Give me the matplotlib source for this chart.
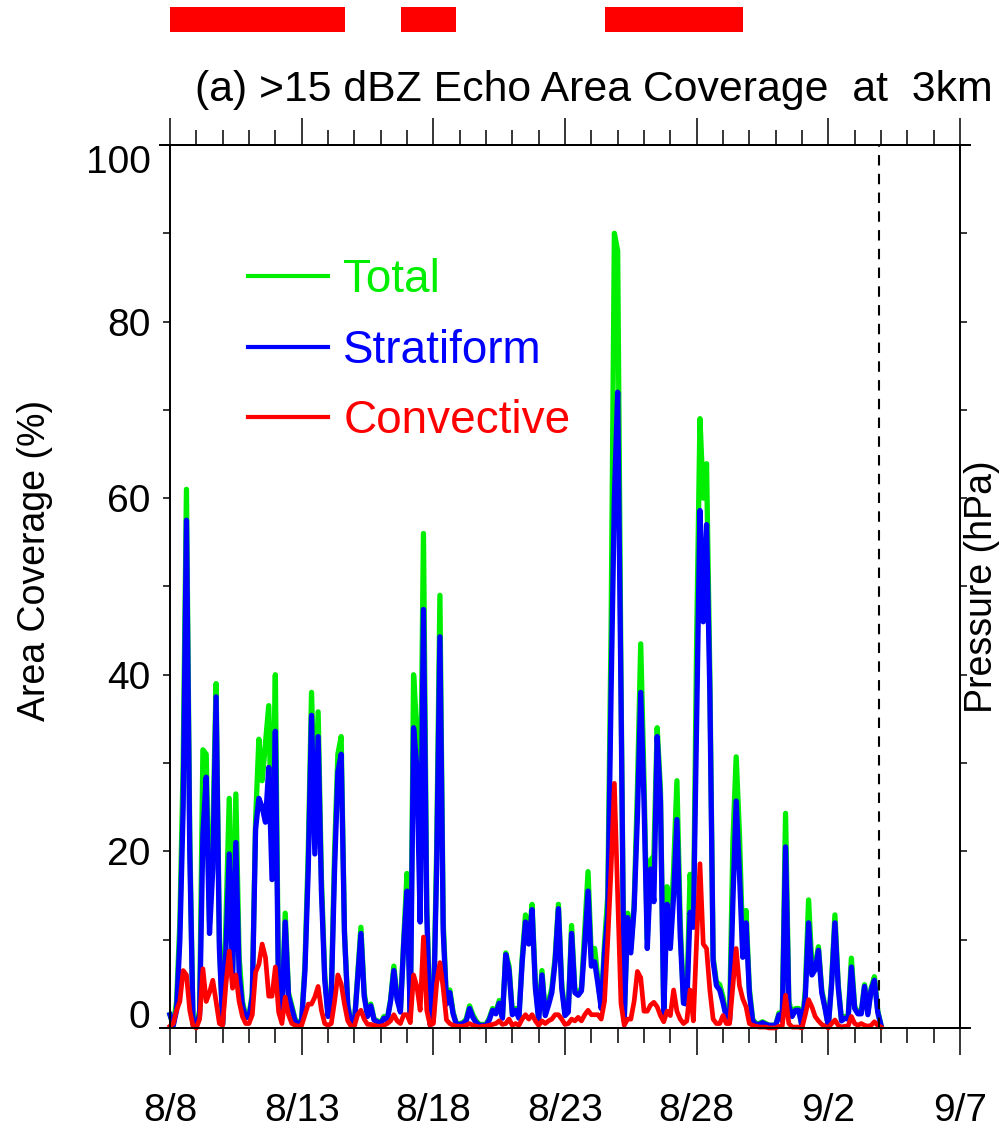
import numpy as np
import matplotlib
matplotlib.use("Agg")
import matplotlib.pyplot as plt
from matplotlib.patches import Rectangle
from matplotlib.ticker import MultipleLocator

plt.rcParams['font.family'] = ['Liberation Sans', 'DejaVu Sans']

# time axis: days since 8/8 00:00, every 3 hours, 8/8 .. 9/4
step = 0.125
# area coverage (%) one row per day (8 values = every 3 h)
total = [
    1.5, 0.3, 3, 12, 30, 61, 22, 0.5,
    0.3, 2, 31.5, 31, 12, 22, 39, 10,
    0.5, 12, 26, 6, 26.5, 8, 3, 1.3,
    1.3, 4, 23.5, 32.7, 28, 32.2, 36.5, 19.7,
    40, 3, 2, 13, 4, 2.5, 1, 0.5,
    1, 7.2, 20, 38, 24, 35.8, 17, 6,
    1.5, 4, 20, 31, 33, 11, 2.7, 0.5,
    0.5, 6, 11.4, 4, 1.5, 2.7, 1, 0.8,
    0.6, 1.3, 1, 3.2, 7, 3.5, 2, 10,
    17.5, 1.5, 40, 33.5, 22, 56, 14, 0.5,
    1, 20, 49, 12, 3, 4.3, 1.8, 0.5,
    0.5, 0.6, 1, 2.5, 1.5, 0.8, 0.4, 0.4,
    0.4, 1.1, 2.2, 1.8, 3.1, 1.3, 8.5, 7,
    1.8, 2.2, 1.3, 8, 12.8, 10, 14, 5,
    1, 6.5, 1.6, 3, 4.5, 8, 14, 5,
    1.6, 2, 11.6, 4.3, 4, 4.5, 11, 17.7,
    8, 9, 5.5, 2.5, 9.5, 15, 45, 90,
    88, 40, 1, 13, 9, 14, 27, 43.5,
    28, 10, 19, 19.5, 34, 27, 2, 16,
    10, 18, 28, 12, 3, 3, 17.4, 12,
    44, 69, 60, 63.9, 40, 8, 5.2, 4.9,
    3.5, 1.4, 1, 21, 30.7, 22, 9, 13.3,
    4.5, 1, 0.5, 0.5, 0.7, 0.5, 0.3, 0.3,
    0.3, 1.7, 1, 24.3, 3, 1.5, 2.2, 2.2,
    0.2, 4.3, 14.5, 7, 7, 9.2, 4.3, 2.4,
    0.2, 5.4, 12.8, 5, 0.9, 1.3, 1.1, 7.9,
    2.4, 1.8, 1.8, 4.9, 1.7, 4.5, 5.8, 2,
    0.3,
]
stratiform = [
    1.5, 0.3, 2, 10, 25, 57.5, 20, 0.4,
    0.3, 1.5, 22, 28.4, 10.7, 18, 37.5, 9,
    0.4, 9, 19.7, 5.6, 21, 6, 2.5, 1.2,
    1.2, 3.5, 22.5, 26, 25, 23.3, 29.5, 16.8,
    33.6, 2.5, 1.5, 12, 3.6, 2.2, 0.8, 0.4,
    0.8, 6.5, 18, 35.4, 19.7, 33, 15.5, 5.5,
    1.3, 3.6, 18, 29, 31, 10.7, 2.5, 0.4,
    0.4, 5.5, 10.7, 3.6, 1.3, 2.5, 0.9, 0.7,
    0.5, 1.1, 0.9, 3, 6.5, 3.2, 1.8, 9.5,
    15.5, 1.2, 34, 29.5, 12, 47.4, 13, 0.4,
    0.8, 18, 44.3, 11, 2.7, 4, 1.6, 0.4,
    0.4, 0.5, 0.8, 2.2, 1.2, 0.6, 0.3, 0.3,
    0.3, 0.9, 2, 1.6, 2.8, 1.1, 8.3, 6.5,
    1.5, 2, 1.1, 7.5, 12, 9.5, 13.4, 4.5,
    0.9, 6, 1.4, 2.6, 4, 7.5, 13.5, 4.5,
    1.4, 1.8, 10.7, 4, 3.7, 4.2, 9.5, 15.5,
    7, 7.5, 5, 2.2, 8.5, 13, 38, 60,
    72, 38, 0.8, 12.5, 8.5, 13.5, 24, 38,
    25.7, 9, 18, 14.3, 33, 25.7, 1.5, 14,
    9, 15, 23.6, 10.5, 2.8, 2.7, 13.1, 11.4,
    35, 58.6, 46, 57, 38, 7.6, 4.8, 4.3,
    2.9, 1.2, 0.8, 14.3, 25.7, 17.5, 8, 11.9,
    4, 0.8, 0.4, 0.4, 0.6, 0.4, 0.3, 0.3,
    0.3, 1.5, 0.8, 20.5, 2.5, 1.3, 2, 2,
    0.2, 3.5, 11.9, 6, 6.6, 8.8, 4, 2.2,
    0.2, 5, 11.9, 4.6, 0.8, 1.1, 1, 6.9,
    2.2, 1.6, 1.6, 4.7, 1.5, 4.3, 5.4, 1.8,
    0.3,
]
convective = [
    0.2, 0.5, 2, 3, 6.5, 6, 2, 0.2,
    0, 1, 6.7, 3, 4, 5.4, 3, 0.5,
    0.3, 5, 8.7, 4.5, 6, 3, 1.3, 0.5,
    0.5, 1.5, 6.3, 7.2, 9.5, 8, 3.6, 3.6,
    6.9, 1.8, 0.5, 3.5, 1.5, 0.5, 0.3, 0.2,
    0.3, 1.5, 2.7, 2.7, 3.5, 4.7, 2, 0.5,
    0.3, 0.5, 3, 6, 5, 2.7, 0.8, 0.2,
    0.2, 1.5, 2, 1, 0.4, 0.4, 0.3, 0.2,
    0.2, 0.3, 0.5, 0.8, 1.5, 0.8, 0.5, 1.5,
    1.5, 0.6, 6, 4.7, 2, 10.3, 2, 0.3,
    0.5, 5, 7.4, 4.5, 0.9, 0.5, 0.3, 0.2,
    0.2, 0.2, 0.3, 0.5, 0.3, 0.2, 0.1, 0.2,
    0.2, 0.3, 0.4, 0.5, 0.8, 0.4, 0.5, 1,
    0.3, 0.5, 0.3, 1, 1.5, 1, 1.5, 0.8,
    0.3, 0.8, 0.5, 0.8, 1, 1.5, 1.5, 1,
    0.4, 0.5, 1, 0.8, 1.2, 0.8, 1.5, 2,
    1.5, 1.5, 1.5, 1, 3, 10, 18, 27.7,
    15, 2.8, 0.3, 1, 1, 3, 6.4, 5.7,
    1.9, 1.9, 2.6, 2.9, 2.4, 1.4, 0.7, 1.9,
    1.4, 4.3, 1.9, 1, 0.5, 0.8, 4.3, 0.8,
    10, 18.6, 9.5, 9, 4.3, 1, 0.5, 0.5,
    1.4, 0.5, 0.5, 4.8, 9, 4.8, 3.3, 2.4,
    0.5, 0.3, 0.2, 0.1, 0.1, 0.1, 0, 0,
    0, 0.2, 0.2, 3.7, 0.5, 0.1, 0.1, 0.1,
    0, 1.5, 3.2, 2.4, 1.3, 0.8, 0.4, 0.2,
    0, 0.5, 0.9, 0.3, 0.1, 0.2, 0.2, 1.3,
    0.5, 0.3, 0.5, 0.3, 0.2, 0.3, 0.7, 0.3,
    0.1,
]
days = np.arange(len(total)) * step

date_labels = ['8/8', '8/13', '8/18', '8/23', '8/28', '9/2', '9/7']
# periods marked by red bars above the panel (days since 8/8)
periods = [(0.0, 6.65), (8.77, 10.86), (16.52, 21.75)]
end_day = 26.93

fig = plt.figure(figsize=(10, 11.29), dpi=100)
ax = fig.add_axes([0.17, 0.0895, 0.79, 0.7821])

ax.plot(days, total, color='#00ee00', lw=3.8, clip_on=False, label='Total')
ax.plot(days, stratiform, color='#0000ff', lw=3.8, clip_on=False, label='Stratiform')
ax.plot(days, convective, color='#ff0000', lw=3.4, clip_on=False, label='Convective')

ax.axvline(end_day, color='black', lw=1.5, ls=(0, (5, 4)))

ax.set_xlim(0, 30)
ax.set_ylim(0, 100)

ax.xaxis.set_major_locator(MultipleLocator(5))
ax.xaxis.set_minor_locator(MultipleLocator(1))
ax.set_xticks(np.arange(0, 31, 5))
ax.set_xticklabels(date_labels)
ax.set_yticks(np.arange(0, 101, 20))
ax.yaxis.set_minor_locator(MultipleLocator(10))

ax.tick_params(axis='x', which='major', direction='out', length=19.5, width=1.1,
               top=True, bottom=True, labelsize=28, pad=27)
ax.tick_params(axis='x', which='minor', direction='out', length=10.5, width=1.1,
               top=True, bottom=True)
ax.tick_params(axis='y', which='both', direction='out', length=5, width=1.1,
               left=True, right=True, labelsize=28, pad=9)

for s in ax.spines.values():
    s.set_linewidth(1.4)

yt = ax.yaxis.get_major_ticks()
yt[0].label1.set_verticalalignment('baseline')
yt[-1].label1.set_verticalalignment('top')

# axis lines run a little past the frame
for yy in (0, 1):
    ax.plot([-0.013, 1.013], [yy, yy], color='black', lw=1.4,
            transform=ax.transAxes, clip_on=False)

# red period bars above the panel
for a, b in periods:
    ax.add_patch(Rectangle((a, 1.128), b - a, 0.028, transform=ax.get_xaxis_transform(),
                           facecolor='#ff0000', edgecolor='none', clip_on=False))

fig.text(0.195, 0.920, '(a) >15 dBZ Echo Area Coverage  at  3km',
         fontsize=30.8, ha='left', va='center')
fig.text(0.035, 0.504, 'Area Coverage (%)', fontsize=27, rotation=90,
         ha='center', va='center')
fig.text(0.982, 0.48, 'Pressure (hPa)', fontsize=27, rotation=90,
         ha='center', va='center')

leg = ax.legend(loc='upper left', bbox_to_anchor=(0.248, 1 - 258 / 1129),
                bbox_transform=fig.transFigure, frameon=False, fontsize=33,
                handlelength=1.75, handletextpad=0.33, labelspacing=0.58,
                borderpad=0, borderaxespad=0)
for txt, line in zip(leg.get_texts(), leg.get_lines()):
    txt.set_color(line.get_color())
    line.set_linewidth(3.0)

fig.savefig('out.png', dpi=100)
